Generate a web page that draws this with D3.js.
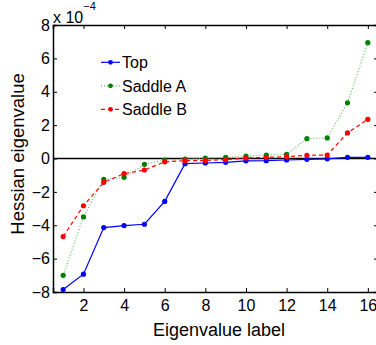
<!DOCTYPE html>
<html>
<head>
<meta charset="utf-8">
<script src="https://cdn.jsdelivr.net/npm/d3@7"></script>
<style>
  body { margin: 0; background: #fff; }
  svg { display: block; font-family: "Liberation Sans", Arial, sans-serif; }
</style>
</head>
<body>
<div id="chart"></div>
<script>
// Eigenvalue labels 1..16, values in units of 1e-4
const labels = [1, 2, 3, 4, 5, 6, 7, 8, 9, 10, 11, 12, 13, 14, 15, 16];
const topVals = [-7.85, -6.93, -4.14, -4.02, -3.94, -2.57, -0.31, -0.27, -0.23, -0.14, -0.13, -0.09, -0.05, -0.02, 0.07, 0.07];
const saddleA = [-7.0, -3.5, -1.25, -1.13, -0.35, -0.09, -0.03, 0.02, 0.07, 0.14, 0.21, 0.25, 1.19, 1.23, 3.34, 6.94];
const saddleB = [-4.68, -2.83, -1.43, -0.91, -0.69, -0.2, -0.13, -0.12, -0.07, 0.03, 0.07, 0.11, 0.19, 0.21, 1.53, 2.35];
const xTicks = [2, 4, 6, 8, 10, 12, 14, 16];
const yTicks = [-8, -6, -4, -2, 0, 2, 4, 6, 8];

const series = [
  { name: 'Top', values: topVals, color: '#0000ff', markerColor: '#0000ff', dash: null },
  { name: 'Saddle A', values: saddleA, color: '#5cc15c', markerColor: '#008000', dash: '1,2' },
  { name: 'Saddle B', values: saddleB, color: '#ff0000', markerColor: '#ff0000', dash: '4,3' }
];

const width = 376, height = 345;
const plot = { left: 53, right: 378, top: 25, bottom: 292 };

const svg = d3.select('#chart').append('svg')
  .attr('width', width)
  .attr('height', height);

const x = d3.scaleLinear().domain([0.5, 16.5]).range([plot.left, plot.right]);
const y = d3.scaleLinear().domain([-8, 8]).range([plot.bottom, plot.top]);

const fmt = d => d < 0 ? '\u2212' + Math.abs(d) : String(d);

// Axes with inward ticks, MATLAB style box
const axisBottom = d3.axisBottom(x).tickValues(xTicks).tickSize(-4).tickPadding(7.5).tickFormat(fmt);
const axisLeft = d3.axisLeft(y).tickValues(yTicks).tickSize(-4).tickPadding(3).tickFormat(fmt);
const axisTop = d3.axisTop(x).tickValues(xTicks).tickSize(-4).tickFormat('');
const axisRight = d3.axisRight(y).tickValues(yTicks).tickSize(-4).tickFormat('');

function styleAxis(g) {
  g.select('.domain').attr('stroke', '#000').attr('stroke-width', 1.5);
  g.selectAll('.tick line').attr('stroke', '#000').attr('stroke-width', 1);
  g.selectAll('.tick text').attr('fill', '#000').style('font-size', '16px');
}

svg.append('g').attr('transform', `translate(0,${plot.bottom})`).call(axisBottom).call(styleAxis);
svg.append('g').attr('transform', `translate(${plot.left},0)`).call(axisLeft).call(styleAxis);
svg.append('g').attr('transform', `translate(0,${plot.top})`).call(axisTop).call(styleAxis);
svg.append('g').attr('transform', `translate(${plot.right},0)`).call(axisRight).call(styleAxis);

// Zero line
svg.append('line')
  .attr('x1', plot.left).attr('x2', plot.right)
  .attr('y1', y(0)).attr('y2', y(0))
  .attr('stroke', '#000').attr('stroke-width', 1.5);

// Series
const line = d3.line().x((d, i) => x(labels[i])).y(d => y(d));

series.forEach(s => {
  svg.append('path')
    .datum(s.values)
    .attr('fill', 'none')
    .attr('stroke', s.color)
    .attr('stroke-width', 1.2)
    .attr('stroke-dasharray', s.dash)
    .attr('d', line);
  svg.append('g').selectAll('circle')
    .data(s.values)
    .join('circle')
    .attr('cx', (d, i) => x(labels[i]))
    .attr('cy', d => y(d))
    .attr('r', 2.6)
    .attr('fill', s.markerColor);
});

// Legend
const legend = svg.append('g');
series.forEach((s, i) => {
  const base = 68.3 + i * 23.5;
  const ly = base - 6;
  legend.append('line')
    .attr('x1', 101).attr('x2', 120).attr('y1', ly).attr('y2', ly)
    .attr('stroke', s.color).attr('stroke-width', 1.2)
    .attr('stroke-dasharray', s.dash);
  legend.append('circle').attr('cx', 110.5).attr('cy', ly).attr('r', 2.4).attr('fill', s.markerColor);
  legend.append('text')
    .attr('x', 122).attr('y', base)
    .style('font-size', '16px')
    .text(s.name);
});

// Exponent label
const expo = svg.append('text').attr('x', 53).attr('y', 23.3).style('font-size', '16px');
expo.append('tspan').text('x 10');
expo.append('tspan').attr('dy', -13).style('font-size', '11px').text('\u22124');

// Axis labels
svg.append('text')
  .attr('x', 219)
  .attr('y', 336)
  .attr('text-anchor', 'middle')
  .style('font-size', '18px')
  .text('Eigenvalue label');

svg.append('text')
  .attr('transform', `translate(23.5,154) rotate(-90)`)
  .attr('text-anchor', 'middle')
  .style('font-size', '18.5px')
  .text('Hessian eigenvalue');
</script>
</body>
</html>
